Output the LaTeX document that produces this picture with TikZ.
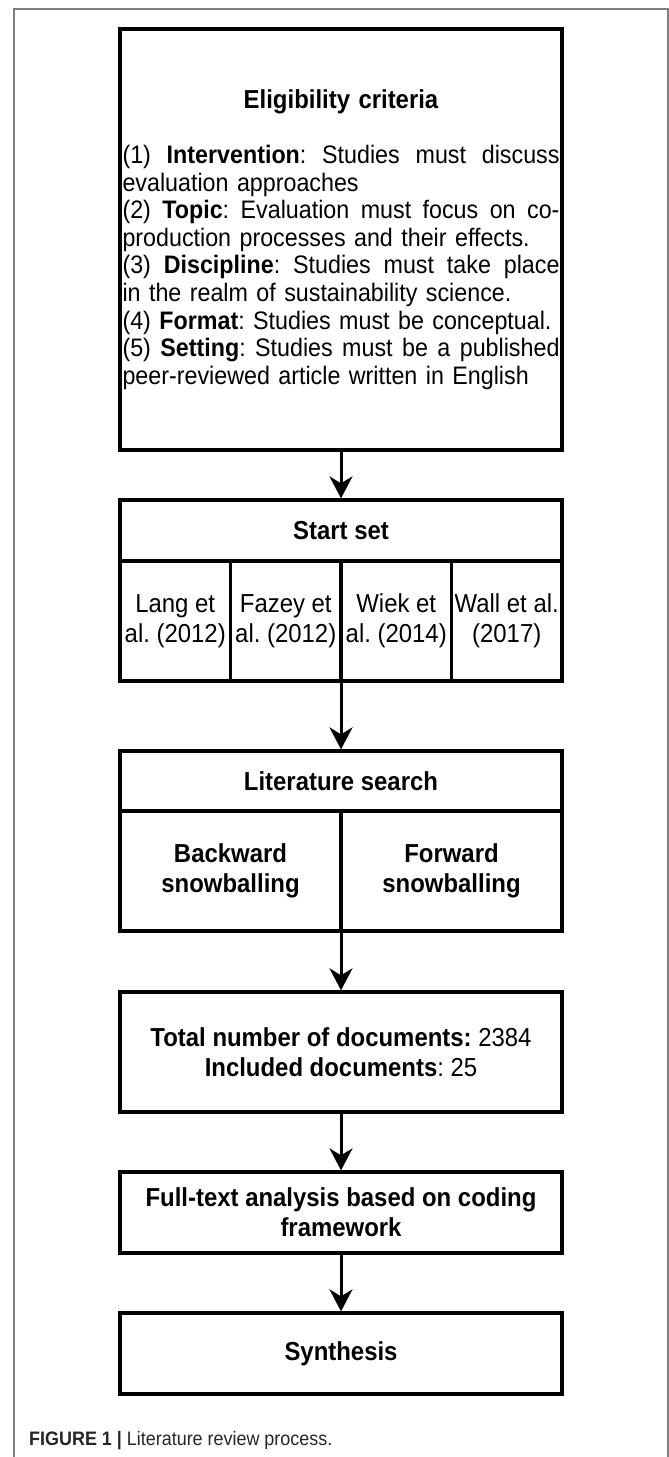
\documentclass[tikz,border=0pt]{standalone}
\usepackage{fontspec}
\setmainfont{Liberation Sans}[FakeStretch=0.92]
\usetikzlibrary{arrows.meta}
\frenchspacing
\newcommand\jusline[1]{\leavevmode\hbox to 437pt{\spaceskip=0.26em plus 1fil\xspaceskip=\spaceskip #1}}
\begin{document}
\begin{tikzpicture}[x=1pt,y=-1pt,
  box/.style={draw, line width=3.3pt, inner sep=0pt, align=center},
  arr/.style={line width=3pt, -{Stealth[length=22pt,width=23pt,inset=7pt]}},
  reg/.style={font=\fontsize{26}{30}\selectfont},
  bld/.style={font=\bfseries\fontsize{26}{30}\selectfont},
  frameline/.style={draw=black!50, line width=1.5pt}
]
\useasboundingbox (0,0) rectangle (669,1457);
\fill[white] (0,0) rectangle (669,1457);
\draw[frameline] (14,1457) -- (14,9) -- (668,9) -- (668,1457);

% Eligibility criteria
\node[box, minimum width=442pt, minimum height=421pt, text width=437pt, align=left,
      font=\fontsize{25.3}{27.6}\selectfont] (elig) at (341,239.5) {%
\leavevmode\hbox to 437pt{\hfil\bfseries\fontsize{26}{27.6}\selectfont Eligibility criteria\hfil}\\[27.6pt]
\jusline{(1) \textbf{Intervention}: Studies must discuss}\\
evaluation approaches\\
\jusline{(2) \textbf{Topic}: Evaluation must focus on co-}\\
production processes and their effects.\\
\jusline{(3) \textbf{Discipline}: Studies must take place}\\
in the realm of sustainability science.\\
\leavevmode\hbox{(4) \textbf{Format}: Studies must be conceptual.}\\
\jusline{(5) \textbf{Setting}: Studies must be a published}\\
peer-reviewed article written in English};

% Start set
\node[box, bld, minimum width=442pt, minimum height=61pt] (sst) at (341,530.5) {Start set};
\node[box, reg, minimum width=110.5pt, minimum height=120pt] (c1) at (175.25,621) {Lang et\\al. (2012)};
\node[box, reg, minimum width=110.5pt, minimum height=120pt] (c2) at (285.75,621) {Fazey et\\al. (2012)};
\node[box, reg, minimum width=110.5pt, minimum height=120pt] (c3) at (396.25,621) {Wiek et\\al. (2014)};
\node[box, reg, minimum width=110.5pt, minimum height=120pt] (c4) at (506.75,621) {Wall et al.\\(2017)};

% Literature search
\node[box, bld, minimum width=442pt, minimum height=60pt] (lst) at (341,781) {Literature search};
\node[box, bld, minimum width=221pt, minimum height=120pt] (bw) at (230.5,871) {Backward\\snowballing};
\node[box, bld, minimum width=221pt, minimum height=120pt] (fw) at (451.5,871) {Forward\\snowballing};

% Totals
\node[box, reg, minimum width=442pt, minimum height=120pt] (tot) at (341,1052)
  {\textbf{Total number of documents:} 2384\\\textbf{Included documents}: 25};

% Full-text analysis
\node[box, bld, minimum width=442pt, minimum height=81pt] (full) at (341,1212.5)
  {Full-text analysis based on coding\\framework};

% Synthesis
\node[box, bld, minimum width=442pt, minimum height=81pt] (syn) at (341,1353.5) {Synthesis};

% Arrows
\draw[arr] (elig.south) -- (sst.north);
\draw[arr] (c2.south east -| sst.north) -- (lst.north);
\draw[arr] (bw.south east -| lst.south) -- (tot.north);
\draw[arr] (tot.south) -- (full.north);
\draw[arr] (full.south) -- (syn.north);

% Caption
\node[anchor=base west, inner sep=0pt, text=black!85, font=\fontsize{19.5}{22}\selectfont] (cap)
  at (29,1445) {\textbf{FIGURE 1 |} Literature review process.};
\end{tikzpicture}
\end{document}
